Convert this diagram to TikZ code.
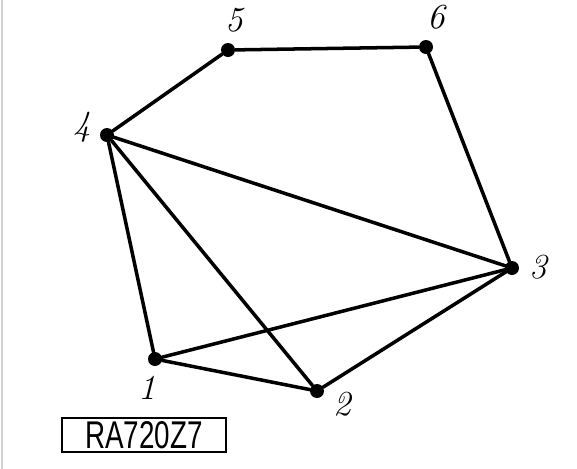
\documentclass[tikz,border=0pt]{standalone}
\usepackage{fontspec}
\newfontfamily\tagfont{Liberation Sans}
\usetikzlibrary{positioning}

\tikzset{
vertex/.style={circle,fill=black,inner sep=0pt,minimum size=0.42cm},
edge/.style={line width=3pt,line cap=round},
vlabel/.style={font=\fontsize{30}{32}\selectfont\itshape}
}

\begin{document}
\begin{tikzpicture}[x=0.03cm,y=-0.03cm]

\useasboundingbox (0,0) rectangle (577,469);

% Scan edge
\draw[gray!35,line width=2pt] (2,0) -- (2,469);

% Vertices
\node[vertex] (v1) at (155,359) {};
\node[vertex] (v2) at (317,391) {};
\node[vertex] (v3) at (512,268) {};
\node[vertex] (v4) at (107,135) {};
\node[vertex] (v5) at (228,50) {};
\node[vertex] (v6) at (426,47) {};

% Labels
\node[vlabel] (l1) at (147,388) {1};
\node[vlabel] (l2) at (342,404) {2};
\node[vlabel] (l3) at (538,267) {3};
\node[vlabel] (l4) at (82,127) {4};
\node[vlabel] (l5) at (234,20) {5};
\node[vlabel] (l6) at (436,17) {6};

% Edges
\foreach \a/\b in {5/6,4/5,6/3,4/3,4/1,4/2,1/3,1/2,2/3}
{
\draw[edge] (v\a) -- (v\b);
}

% Tag
\node[draw,line width=1.8pt,inner sep=1pt,minimum width=4.9cm,minimum height=1cm,
font=\tagfont\fontsize{33}{34}\selectfont] (tag) at (144,435) {\scalebox{0.72}[1]{RA720Z7}};

\end{tikzpicture}
\end{document}
